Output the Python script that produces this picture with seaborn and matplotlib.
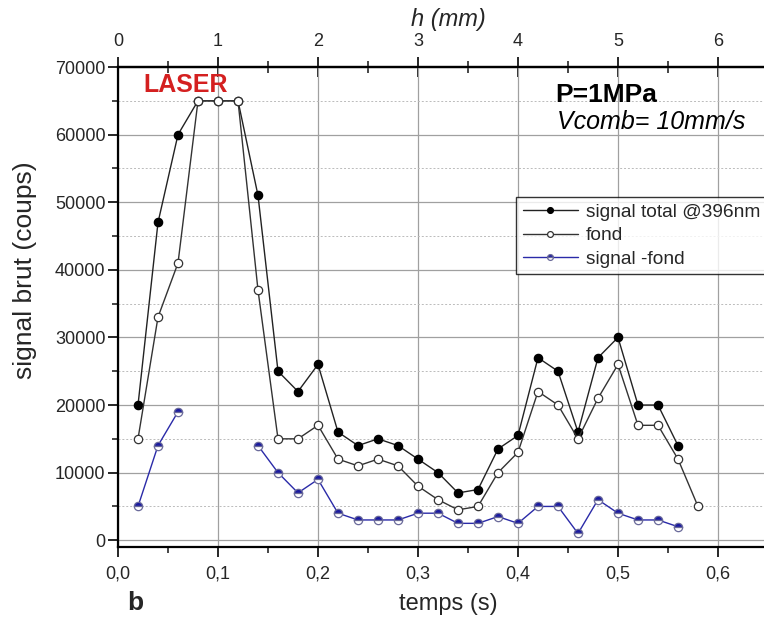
import matplotlib

matplotlib.use('Agg')
import matplotlib.pyplot as plt
import seaborn as sns
from matplotlib.ticker import MultipleLocator, FuncFormatter

# temps (s)
t_total = [0.02, 0.04, 0.06, 0.08, 0.10, 0.12, 0.14, 0.16, 0.18, 0.20, 0.22, 0.24, 0.26, 0.28,
           0.30, 0.32, 0.34, 0.36, 0.38, 0.40, 0.42, 0.44, 0.46, 0.48, 0.50, 0.52, 0.54, 0.56]
signal_total = [20000, 47000, 60000, 65000, 65000, 65000, 51000, 25000, 22000, 26000, 16000, 14000,
                15000, 14000, 12000, 10000, 7000, 7500, 13500, 15500, 27000, 25000, 16000, 27000,
                30000, 20000, 20000, 14000]

t_fond = t_total + [0.58]
fond = [15000, 33000, 41000, 65000, 65000, 65000, 37000, 15000, 15000, 17000, 12000, 11000,
        12000, 11000, 8000, 6000, 4500, 5000, 10000, 13000, 22000, 20000, 15000, 21000,
        26000, 17000, 17000, 12000, 5000]

# signal - fond : two segments (no value while the detector is saturated)
t_diff_a = [0.02, 0.04, 0.06]
diff_a = [5000, 14000, 19000]
t_diff_b = [0.14, 0.16, 0.18, 0.20, 0.22, 0.24, 0.26, 0.28, 0.30, 0.32, 0.34, 0.36, 0.38,
            0.40, 0.42, 0.44, 0.46, 0.48, 0.50, 0.52, 0.54, 0.56]
diff_b = [14000, 10000, 7000, 9000, 4000, 3000, 3000, 3000, 4000, 4000, 2500, 2500, 3500,
          2500, 5000, 5000, 1000, 6000, 4000, 3000, 3000, 2000]

h_ticks = [0, 1, 2, 3, 4, 5, 6]

sns.set_style('ticks')
plt.rcParams['font.family'] = ['Liberation Sans', 'DejaVu Sans']

fig = plt.figure(figsize=(7.64, 6.27), dpi=100)
ax = fig.add_axes([118 / 764, 80 / 627, 660 / 764, 480 / 627])

line_kw = dict(lw=1.0, markersize=6, markeredgewidth=0.9, estimator=None, ax=ax)
sns.lineplot(x=t_total, y=signal_total, color='#222222', marker='o', markerfacecolor='black',
             markeredgecolor='black', label='signal total @396nm', **line_kw)
sns.lineplot(x=t_fond, y=fond, color='#333333', marker='o', markerfacecolor='white',
             markeredgecolor='#333333', label='fond', **line_kw)
blue_kw = dict(color='#2a2aa8', marker='o', markerfacecolor='#1a1aa0', markerfacecoloralt='white',
               fillstyle='top', markeredgecolor='#6a6a9a')
sns.lineplot(x=t_diff_a, y=diff_a, label='signal -fond', **blue_kw, **line_kw)
sns.lineplot(x=t_diff_b, y=diff_b, label='_nolegend_', **blue_kw, **line_kw)

ax.set_xlim(0, 0.66)
ax.set_ylim(-1000, 70000)
ax.xaxis.set_major_locator(MultipleLocator(0.1))
ax.xaxis.set_minor_locator(MultipleLocator(0.05))
ax.yaxis.set_major_locator(MultipleLocator(10000))
ax.yaxis.set_minor_locator(MultipleLocator(5000))
ax.xaxis.set_major_formatter(FuncFormatter(lambda v, p: f'{v:.1f}'.replace('.', ',')))

ax.grid(which='major', color='#a0a0a0', lw=0.9, ls='-')
ax.grid(which='minor', axis='y', color='#bbbbbb', lw=0.7, ls=(0, (2, 2)))
ax.set_axisbelow(True)

for s in ['left', 'bottom', 'top']:
    ax.spines[s].set_linewidth(1.6)
    ax.spines[s].set_color('black')
ax.spines['right'].set_visible(False)
ax.tick_params(which='major', direction='out', length=7, width=1.4, labelsize=13, pad=6)
ax.tick_params(axis='y', which='major', pad=2)
ax.tick_params(which='minor', direction='out', length=4, width=1.2)

ax.set_xlabel('temps (s)', fontsize=17, labelpad=8)
ax.set_ylabel('signal brut (coups)', fontsize=19)
ax.yaxis.set_label_coords(-0.122, 0.577)

top = ax.secondary_xaxis('top', functions=(lambda x: x * 10, lambda h: h / 10))
top.set_xticks(h_ticks)
top.xaxis.set_minor_locator(MultipleLocator(0.5))
top.tick_params(which='major', direction='inout', length=15, width=1.4, labelsize=13, pad=5)
top.tick_params(which='minor', direction='inout', length=8, width=1.2)
top.spines['top'].set_linewidth(1.6)
top.set_xlabel('h (mm)', fontsize=17, style='italic', labelpad=5)

ax.text(0.025, 67300, 'LASER', color='#d42020', fontsize=18, fontweight='bold', va='center')
ax.text(0.437, 65900, 'P=1MPa', color='black', fontsize=19, fontweight='bold', va='center')
ax.text(0.439, 61800, 'Vcomb= 10mm/s', color='black', fontsize=18, style='italic', va='center')
fig.text(135 / 764, 1 - 603 / 627, 'b', fontsize=19, fontweight='bold', ha='center', va='center')

leg = ax.legend(loc='upper left', bbox_to_anchor=(0.603, 0.729), fontsize=13.8, frameon=True,
                fancybox=False, handlelength=2.9, handletextpad=0.4, borderpad=0.35,
                borderaxespad=0, labelspacing=0.3, markerscale=0.7)
leg.get_frame().set_edgecolor('black')
leg.get_frame().set_linewidth(1.0)

fig.savefig('out.png', dpi=100)
